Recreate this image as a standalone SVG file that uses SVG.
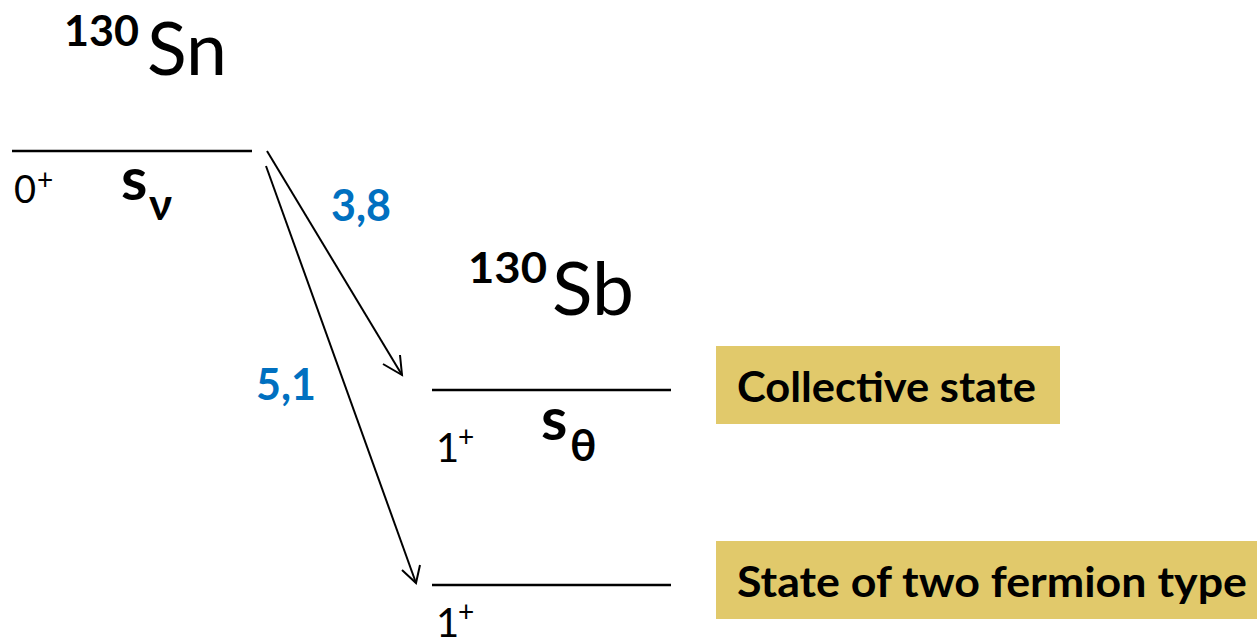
<svg xmlns="http://www.w3.org/2000/svg" width="1257" height="644" viewBox="0 0 1257 644">
<defs>
<style>
text{font-family:Lato,"Open Sans","Noto Sans",sans-serif;fill:#000}
.lvl{stroke:#000;stroke-width:2.4;fill:none}
.arr{stroke:#000;stroke-width:2;fill:none}
.val{fill:#0070C0;font-weight:bold;font-size:43px}
.box{fill:#E1C96B}
.lab{font-weight:bold;font-size:42px}
.mass{font-weight:bold;font-size:42px}
.el{font-size:73px}
.sym{font-weight:bold;font-size:60px}
.sub{font-weight:bold;font-size:44px}
.jp{font-size:38px}
.par{font-size:28px}
</style>
</defs>
<g id="sn">
<text class="mass" x="64" y="46" textLength="75" lengthAdjust="spacingAndGlyphs">130</text>
<text class="el" x="147" y="75" textLength="80" lengthAdjust="spacingAndGlyphs">Sn</text>
</g>
<g id="sn-level">
<line class="lvl" x1="12" y1="151" x2="252" y2="151"/>
<text class="jp" x="14" y="203">0</text>
<text class="par" x="37" y="190">+</text>
<text class="sym" x="121" y="200">s</text>
<text class="sub" x="149" y="220">ν</text>
</g>
<g id="sb">
<text class="mass" x="468" y="283" textLength="79" lengthAdjust="spacingAndGlyphs">130</text>
<text class="el" x="552" y="315" textLength="82" lengthAdjust="spacingAndGlyphs">Sb</text>
</g>
<g id="sb-level1">
<line class="lvl" x1="432" y1="390" x2="671" y2="390"/>
<text x="436" y="462" font-size="40">1</text>
<text class="par" x="458" y="447">+</text>
<text class="sym" x="541" y="440">s</text>
<text class="sub" x="570" y="461">θ</text>
</g>
<g id="sb-level2">
<line class="lvl" x1="432" y1="585" x2="671" y2="585"/>
<text x="436" y="637" font-size="40">1</text>
<text class="par" x="458" y="622">+</text>
</g>
<g id="collective">
<rect class="box" x="716" y="346" width="344" height="78"/>
<text class="lab" x="737" y="402" textLength="299" lengthAdjust="spacingAndGlyphs">Collective state</text>
</g>
<g id="twofermion">
<rect class="box" x="716" y="541" width="541" height="78"/>
<text class="lab" x="737" y="597" textLength="510" lengthAdjust="spacingAndGlyphs">State of two fermion type</text>
</g>
<g id="connectors">
<line class="arr" x1="267" y1="151" x2="402" y2="375"/>
<polyline class="arr" points="383,364 402,375 400,355"/>
<line class="arr" x1="266" y1="166" x2="416" y2="583"/>
<polyline class="arr" points="402,570 416,583 420,565"/>
<text class="val" x="331" y="221">3,8</text>
<text class="val" x="256" y="400">5,1</text>
</g>
</svg>
